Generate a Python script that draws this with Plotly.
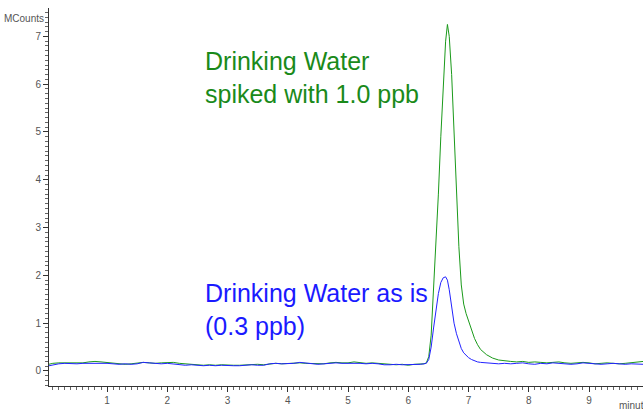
import numpy as np
import plotly.graph_objects as go

# ---- data ----
t_base1 = [round(0.1 * i, 1) for i in range(63)]  # 0.0 .. 6.2 min
t_peak = [6.26, 6.30, 6.34, 6.38, 6.42, 6.46, 6.50, 6.54, 6.58, 6.62, 6.65, 6.68,
          6.72, 6.76, 6.80, 6.84, 6.88, 6.92, 6.96, 7.00, 7.05, 7.10, 7.15, 7.20,
          7.30, 7.40, 7.50, 7.60, 7.70]
t_base2 = [round(7.8 + 0.1 * i, 1) for i in range(22)]  # 7.8 .. 9.9 min

spiked_base1 = [0.13, 0.16, 0.17, 0.17, 0.16, 0.17, 0.17, 0.19, 0.20, 0.19,
                0.18, 0.17, 0.16, 0.14, 0.15, 0.17, 0.18, 0.17, 0.16, 0.17,
                0.17, 0.18, 0.16, 0.15, 0.14, 0.13, 0.12, 0.13, 0.12, 0.13,
                0.12, 0.12, 0.12, 0.13, 0.14, 0.14, 0.13, 0.15, 0.16, 0.15,
                0.16, 0.17, 0.17, 0.16, 0.16, 0.15, 0.15, 0.17, 0.18, 0.17,
                0.17, 0.19, 0.17, 0.16, 0.17, 0.16, 0.15, 0.14, 0.13, 0.14,
                0.12, 0.14, 0.14]
spiked_peak = [0.15, 0.17, 0.30, 0.75, 1.70, 2.80, 3.70, 4.90, 6.00, 6.90, 7.25, 7.00,
               6.20, 5.00, 3.90, 2.60, 1.80, 1.40, 1.20, 1.05, 0.85, 0.68, 0.55, 0.45,
               0.34, 0.27, 0.23, 0.21, 0.20]
spiked_base2 = [0.19, 0.20, 0.18, 0.19, 0.18, 0.17, 0.18, 0.19, 0.17, 0.16,
                0.17, 0.18, 0.17, 0.15, 0.16, 0.17, 0.16, 0.15, 0.16, 0.17,
                0.19, 0.20]

asis_base1 = [0.10, 0.13, 0.15, 0.16, 0.15, 0.15, 0.16, 0.16, 0.17, 0.17,
              0.16, 0.15, 0.14, 0.15, 0.14, 0.15, 0.18, 0.17, 0.16, 0.15,
              0.16, 0.15, 0.13, 0.12, 0.13, 0.12, 0.11, 0.12, 0.11, 0.12,
              0.11, 0.11, 0.11, 0.12, 0.13, 0.12, 0.12, 0.15, 0.16, 0.15,
              0.15, 0.16, 0.18, 0.17, 0.15, 0.14, 0.15, 0.16, 0.17, 0.16,
              0.16, 0.17, 0.16, 0.15, 0.16, 0.15, 0.13, 0.13, 0.14, 0.13,
              0.13, 0.14, 0.14]
asis_peak = [0.15, 0.16, 0.24, 0.50, 0.90, 1.30, 1.62, 1.85, 1.95, 1.97, 1.90, 1.70,
             1.35, 1.00, 0.78, 0.60, 0.47, 0.38, 0.32, 0.28, 0.24, 0.21, 0.19, 0.18,
             0.17, 0.16, 0.15, 0.16, 0.15]
asis_base2 = [0.16, 0.17, 0.15, 0.14, 0.16, 0.15, 0.17, 0.16, 0.15, 0.14,
              0.15, 0.17, 0.16, 0.15, 0.14, 0.15, 0.16, 0.15, 0.14, 0.15,
              0.15, 0.14]

t_all = t_base1 + t_peak + t_base2
spiked = spiked_base1 + spiked_peak + spiked_base2
asis = asis_base1 + asis_peak + asis_base2

x_ticks = [1, 2, 3, 4, 5, 6, 7, 8, 9]
y_ticks = [0, 1, 2, 3, 4, 5, 6, 7]

fig = go.Figure()
fig.add_trace(go.Scatter(x=t_all, y=spiked, mode="lines",
                         line=dict(color="#1a9a1a", width=1), name="spiked"))
fig.add_trace(go.Scatter(x=t_all, y=asis, mode="lines",
                         line=dict(color="#2222ff", width=1), name="as is"))

axis_color = "#333333"
tick_font = dict(family="Liberation Sans, Arial", size=10, color="#555555")

fig.update_xaxes(range=[0.037, 9.896], tickvals=x_ticks, showgrid=False, zeroline=False,
                 showline=True, linecolor=axis_color, linewidth=1,
                 ticks="outside", ticklen=5, tickcolor=axis_color, tickfont=tick_font,
                 minor=dict(dtick=0.1, ticks="outside", ticklen=3, tickcolor="#666666", showgrid=False))
fig.update_yaxes(range=[-0.314, 7.594], tickvals=y_ticks, showgrid=False, zeroline=False,
                 showline=True, linecolor=axis_color, linewidth=1,
                 ticks="outside", ticklen=5, tickcolor=axis_color, tickfont=tick_font,
                 minor=dict(dtick=0.1, ticks="outside", ticklen=3, tickcolor="#666666", showgrid=False))

fig.add_annotation(x=-0.005, y=1.0, xref="paper", yref="paper", text="MCounts",
                   showarrow=False, xanchor="right", yanchor="middle", yshift=-10,
                   font=dict(family="Liberation Sans, Arial", size=10, color="#555555"))
fig.add_annotation(x=1.0, y=0, xref="paper", yref="paper", text="minutes",
                   showarrow=False, xanchor="left", yanchor="top", xshift=-26, yshift=-12,
                   font=dict(family="Liberation Sans, Arial", size=10, color="#555555"))

fig.add_annotation(x=2.6, y=6.13, xref="x", yref="y",
                   text="Drinking Water<br>spiked with 1.0 ppb", showarrow=False,
                   xanchor="left", yanchor="middle", align="left",
                   font=dict(family="Liberation Sans, Arial", size=25, color="#1a8a1a"))
fig.add_annotation(x=2.6, y=1.28, xref="x", yref="y",
                   text="Drinking Water as is<br>(0.3 ppb)", showarrow=False,
                   xanchor="left", yanchor="middle", align="left",
                   font=dict(family="Liberation Sans, Arial", size=25, color="#1a1aff"))

fig.update_layout(width=643, height=412, margin=dict(l=49, r=0, t=8, b=26),
                  paper_bgcolor="white", plot_bgcolor="white", showlegend=False)

fig.write_html("out.html")
